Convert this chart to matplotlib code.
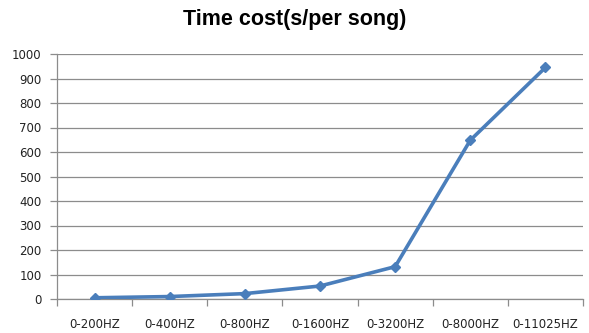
import matplotlib
matplotlib.use('Agg')
import matplotlib.pyplot as plt
import numpy as np

# Frequency bands and average processing time per song (seconds)
bands = ['0-200HZ', '0-400HZ', '0-800HZ', '0-1600HZ', '0-3200HZ', '0-8000HZ', '0-11025HZ']
time_cost = [5, 10, 22, 53, 132, 648, 945]
yticks = list(range(0, 1001, 100))

LINE = '#4a7ebb'
GRID = '#8c8c8c'

fig = plt.figure(figsize=(5.89, 3.33), dpi=100)
ax = fig.add_axes([57 / 589, 1 - 299 / 333, (583 - 57) / 589, (299 - 54) / 333])

x = np.arange(len(bands))
ax.plot(x, time_cost, color=LINE, linewidth=2.6, marker='D', markersize=5.5,
        markeredgecolor=LINE, zorder=3)

ax.set_xlim(-0.5, len(bands) - 0.5)
ax.set_ylim(0, 1000)
ax.set_yticks(yticks)
ax.set_yticklabels([str(v) for v in yticks], fontsize=8.5, color='#222222')
ax.grid(axis='y', color=GRID, linewidth=0.9)
ax.set_axisbelow(True)

# category labels centred, tick marks on the boundaries
ax.set_xticks(x)
ax.set_xticklabels(bands, fontsize=8.5, color='#222222')
ax.tick_params(axis='x', length=0, pad=14)
ax.set_xticks(np.arange(len(bands) + 1) - 0.5, minor=True)
ax.tick_params(axis='x', which='minor', length=5, color=GRID, width=0.9)
ax.tick_params(axis='y', length=5, color=GRID, width=0.9, pad=6)

for side in ['top', 'right']:
    ax.spines[side].set_visible(False)
for side in ['left', 'bottom']:
    ax.spines[side].set_color(GRID)
    ax.spines[side].set_linewidth(0.9)

fig.text(0.5, 1 - 20 / 333, 'Time cost(s/per song)', ha='center', va='center',
         fontsize=15.5, fontweight='bold', family='Liberation Sans')

fig.savefig('out.png', dpi=100, facecolor='white')
